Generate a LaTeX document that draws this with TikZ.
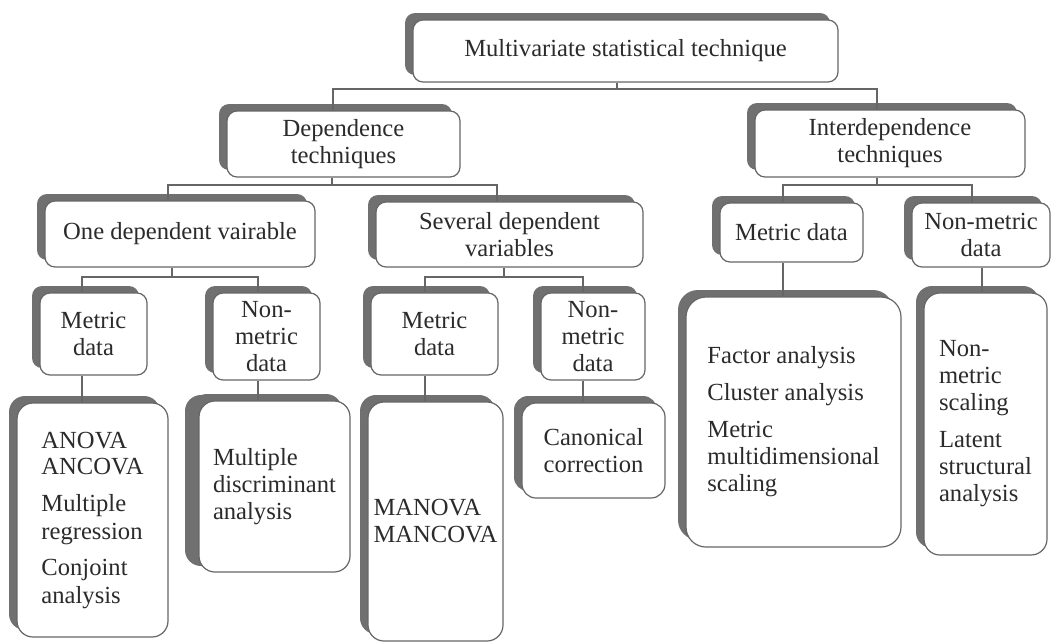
\documentclass[tikz,border=0pt]{standalone}
\usepackage{fontspec}
\setmainfont{Liberation Serif}
\newfontfamily\labelfont{Liberation Serif}
\usetikzlibrary{shadows}
\definecolor{edgec}{HTML}{666666}
\definecolor{shadc}{HTML}{707070}
\definecolor{textc}{HTML}{2B2B2B}
\begin{document}
\begin{tikzpicture}[x=0.5pt,y=-0.5pt,
  corners/.style n args={4}{at={({(#1+#3)/2},{(#2+#4)/2})},
    minimum width={(#3-#1)*0.5pt},minimum height={(#4-#2)*0.5pt}},
  box/.style={draw=edgec,line width=0.6pt,fill=white,rounded corners=5pt,inner sep=0pt,
    anchor=center,align=center,text=textc,font=\labelfont\fontsize{12.3}{13.5}\selectfont,
    drop shadow={shadow xshift=-4pt,shadow yshift=3.5pt,fill=shadc,opacity=1}},
  bigbox/.style={box,rounded corners=8pt,align=left},
  conn/.style={draw=edgec,line width=0.9pt}]
\useasboundingbox (0,0) rectangle (1054,643);

% level 0-1
\node[box,corners={413}{20}{838}{82}] (top) {Multivariate statistical technique};
\node[box,corners={227}{111}{460}{177}] (dep) {Dependence\\techniques};
\node[box,corners={755}{110}{1025}{177}] (inter) {Interdependence\\techniques};

% level 2
\node[box,corners={45}{201}{315}{267}] (one) {One dependent vairable};
\node[box,corners={376}{202}{643}{267}] (sev) {Several dependent\\variables};
\node[box,corners={720}{203}{863}{262}] (metC) {Metric data};
\node[box,corners={912}{203}{1050}{267}] (nonC) {Non-metric\\data};

% level 3
\node[box,corners={40}{293}{147}{375}] (metA) {Metric\\data};
\node[box,corners={213}{293}{320}{380}] (nonA) {Non-\\metric\\data};
\node[box,corners={371}{293}{498}{375}] (metB) {Metric\\data};
\node[box,corners={541}{293}{645}{380}] (nonB) {Non-\\metric\\data};

% leaves
\node[bigbox,corners={17}{403}{168}{637}] (anova)
  {ANOVA\\ANCOVA\\[5pt]Multiple\\regression\\[5pt]Conjoint\\analysis};
\node[bigbox,corners={199}{401}{350}{572},
  drop shadow={shadow xshift=-7pt,shadow yshift=3pt,fill=shadc,opacity=1}] (disc)
  {Multiple\\discriminant\\analysis};
\node[bigbox,corners={368}{402}{503}{641}] (manova) {MANOVA\\MANCOVA};
\node[box,corners={522}{403}{665}{498},rounded corners=7pt] (canon) {Canonical\\correction};
\node[bigbox,rounded corners=10pt,corners={686}{297}{901}{547}] (factor)
  {Factor analysis\\[5pt]Cluster analysis\\[5pt]Metric\\multidimensional\\scaling};
\node[bigbox,corners={924}{293}{1047}{555}] (nmscal)
  {Non-\\metric\\scaling\\[5pt]Latent\\structural\\analysis};

% junctions
\coordinate (j0) at (617,89);  \coordinate (jL) at (333,89);  \coordinate (jR) at (877,89);
\coordinate (k0) at (332,185); \coordinate (kL) at (168,185); \coordinate (kR) at (497,185);
\coordinate (m0) at (877,185); \coordinate (mL) at (783,185); \coordinate (mR) at (972,185);
\coordinate (n0) at (172,277); \coordinate (nL) at (82,277);  \coordinate (nR) at (258,277);
\coordinate (p0) at (504,277); \coordinate (pL) at (425,277); \coordinate (pR) at (583,277);
\coordinate (qx) at (982,280);

% connectors
\draw[conn] (top.south -| j0) -- (j0);
\draw[conn] (jL |- dep.north) |- (jR) -- (jR |- inter.north);

\draw[conn] (dep.south -| k0) -- (k0);
\draw[conn] (kL |- one.north) |- (kR) -- (kR |- sev.north);

\draw[conn] (inter.south -| m0) -- (m0);
\draw[conn] (mL |- metC.north) |- (mR) -- (mR |- nonC.north);

\draw[conn] (one.south -| n0) -- (n0);
\draw[conn] (nL |- metA.north) |- (nR) -- (nR |- nonA.north);

\draw[conn] (sev.south -| p0) -- (p0);
\draw[conn] (pL |- metB.north) |- (pR) -- (pR |- nonB.north);

\draw[conn] (nL |- metA.south) -- (nL |- anova.north);
\draw[conn] (nR |- nonA.south) -- (nR |- disc.north);
\draw[conn] (pL |- metB.south) -- (pL |- manova.north);
\draw[conn] (pR |- nonB.south) -- (pR |- canon.north);
\draw[conn] (mL |- metC.south) -- (mL |- factor.north);
\draw[conn] (qx |- nonC.south) -- (qx |- nmscal.north);
\end{tikzpicture}
\end{document}
